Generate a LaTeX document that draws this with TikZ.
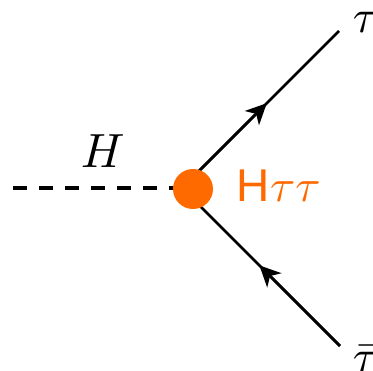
\documentclass[tikz,border=0pt]{standalone}
\usepackage{fontspec}
\usepackage{amsmath, amssymb}
\usetikzlibrary{arrows.meta, calc}
\newfontfamily\labelsans{Liberation Sans}
\definecolor{vtxorange}{RGB}{255,106,0}

\begin{document}
\begin{tikzpicture}[x=1pt, y=-1pt,
    fermion/.style={line width=2.8pt},
    midarrow/.style={line width=2.8pt, -{Stealth[length=21pt, width=20pt, inset=6pt]}},
    scalar/.style={line width=3.6pt, dash pattern=on 14pt off 12pt},
    vertexdot/.style={circle, fill=vtxorange, minimum size=40pt, inner sep=0pt}]
    \useasboundingbox (0,0) rectangle (373,371);

    % --- END POINTS ---
    \coordinate (junction) at (182,188);
    \coordinate (hstart) at (13,188);
    \coordinate (tauend) at (339,31);
    \coordinate (taubarend) at (340,346);

    % --- PROPAGATORS ---
    \draw[scalar] (hstart) -- (junction);
    \draw[fermion] (junction) -- (tauend);
    \draw[fermion] (taubarend) -- (junction);
    \draw[midarrow] (junction) -- ($(junction)!0.54!(tauend)$);
    \draw[midarrow] (taubarend) -- ($(taubarend)!0.51!(junction)$);

    % --- VERTEX ---
    \node[vertexdot] (vertex) at (193,189) {};

    % --- LABELS ---
    \node[anchor=base west, scale=4.8, inner sep=0pt] (hlabel) at (80,168) {$H$};
    \node[anchor=base west, scale=4.6, inner sep=0pt, text=vtxorange] (coupling) at (236,202) {{\labelsans H}$\tau\tau$};
    \node[anchor=base west, scale=4.7, inner sep=0pt] (tau) at (352,33) {$\tau$};
    \node[anchor=base west, scale=4.7, inner sep=0pt] (taubar) at (352,373) {$\bar{\tau}$};
\end{tikzpicture}
\end{document}
